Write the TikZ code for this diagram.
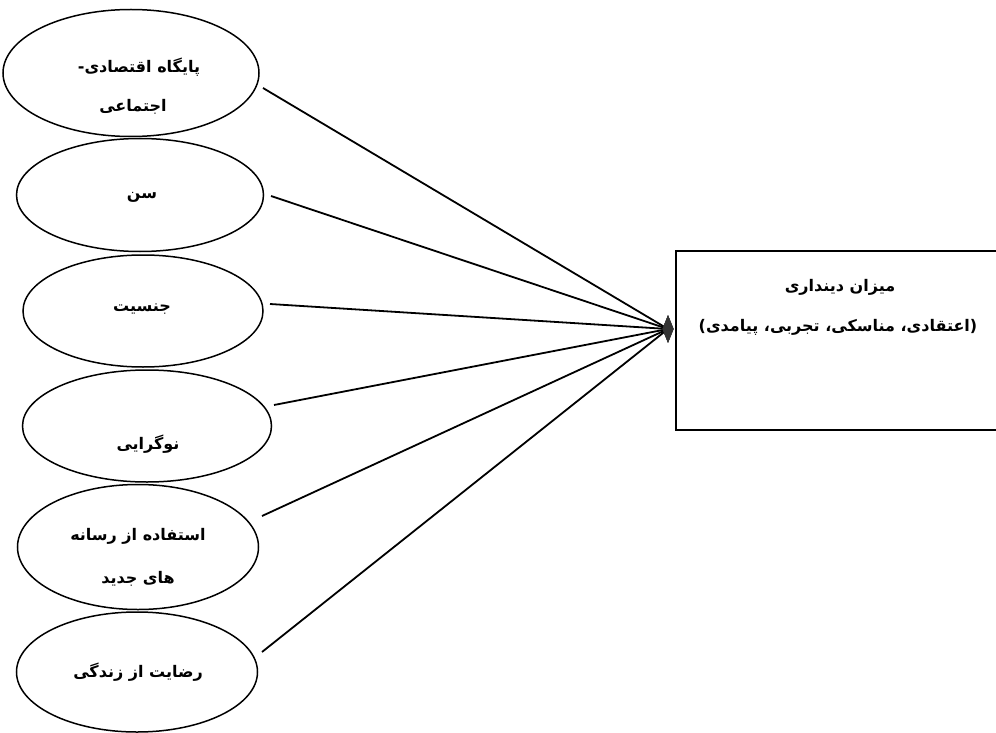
\documentclass[tikz,border=0pt]{standalone}
\usepackage{fontspec}
\usetikzlibrary{shapes.geometric,arrows.meta}
\TeXXeTstate=1
\newfontfamily\arabicfont[Script=Arabic]{DejaVu Sans}
\newcommand{\brk}{\kern0pt}
\tikzset{
  ell/.style={draw,ellipse,line width=1.5pt,inner sep=0pt},
  lbl/.style={font=\arabicfont\bfseries\fontsize{16}{19}\selectfont,inner sep=0pt,anchor=center},
  conn/.style={line width=1.8pt},
  hubshape/.style={diamond,fill=black!80,draw=black!80,minimum width=11pt,minimum height=27pt,inner sep=0pt,aspect=0.4},
}
\begin{document}
\begin{tikzpicture}[x=1pt,y=-1pt]
\useasboundingbox (0,0) rectangle (996,733);
% ellipses
\node[ell,minimum width=256pt,minimum height=127pt] (e1) at (131,73) {};
\node[ell,minimum width=247pt,minimum height=113pt] (e2) at (140,195) {};
\node[ell,minimum width=240pt,minimum height=112pt] (e3) at (143,311) {};
\node[ell,minimum width=249pt,minimum height=112pt] (e4) at (147,426) {};
\node[ell,minimum width=241pt,minimum height=125pt] (e5) at (138,547) {};
\node[ell,minimum width=241pt,minimum height=120pt] (e6) at (137,672) {};
% labels
\node[lbl] (t1a) at (139,67) {\beginR پایگاه اقتصادی\brk-\endR};
\node[lbl] (t1b) at (133,107) {\beginR اجتماعی\endR};
\node[lbl] (t2) at (142,197) {\beginR سن\endR};
\node[lbl] (t3) at (142,309) {\beginR جنسیت\endR};
\node[lbl] (t4) at (148,444) {\beginR نوگرایی\endR};
\node[lbl] (t5a) at (138,536) {\beginR استفاده از رسانه\endR};
\node[lbl] (t5b) at (138,579) {\beginR های جدید\endR};
\node[lbl] (t6) at (138,672) {\beginR رضایت از زندگی\endR};
% box
\node[draw,line width=1.5pt,rectangle,minimum width=330pt,minimum height=179pt,anchor=north west,inner sep=0pt] (box) at (675,250) {};
\node[lbl] (b1) at (840,287) {\beginR میزان دینداری\endR};
\node[lbl] (b2) at (838,327) {\beginR (\brk اعتقادی\brk، مناسکی\brk، تجربی\brk، پیامدی\brk)\endR};
% hub
\node[hubshape] (hub) at (668,329) {};
% start points
\coordinate (s1) at (263,88);
\coordinate (s2) at (271,196);
\coordinate (s3) at (270,304);
\coordinate (s4) at (274,405);
\coordinate (s5) at (262,516);
\coordinate (s6) at (262,652);
\foreach \s in {s1,s2,s3,s4,s5,s6}{
  \draw[conn] (\s) -- (hub.center);
}
\node[hubshape] at (hub) {};
\end{tikzpicture}
\end{document}
